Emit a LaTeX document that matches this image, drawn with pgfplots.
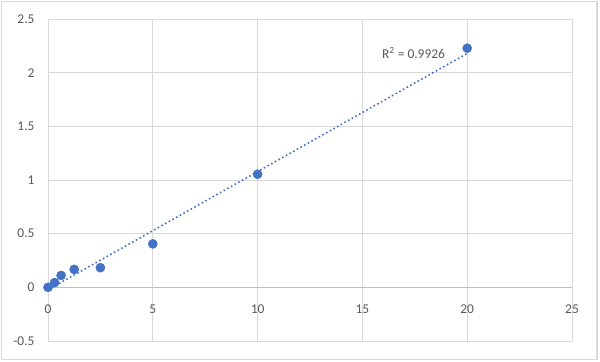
\documentclass[border=0pt]{standalone}
\usepackage{pgfplots}
\pgfplotsset{compat=1.18}
\usepackage{fontspec}
\setmainfont{Carlito}
\definecolor{pt}{RGB}{68,114,196}
\definecolor{gridc}{RGB}{217,217,217}
\definecolor{axc}{RGB}{191,191,191}
\definecolor{txt}{RGB}{89,89,89}
\begin{document}
\begin{tikzpicture}[x=1bp,y=1bp]
\useasboundingbox (-48,-20) rectangle (552,341);
\draw[gridc, line width=1.2bp] (-46.5,-18.5) rectangle (549,339.5);
\begin{axis}[
  at={(0,0)}, anchor=south west,
  scale only axis, width=524bp, height=322bp,
  xmin=0, xmax=25, ymin=-0.5, ymax=2.5,
  xtick={0,5,10,15,20,25}, xticklabels={0,5,10,15,20,25},
  ytick={-0.5,0,0.5,1,1.5,2,2.5}, yticklabels={-0.5,0,0.5,1,1.5,2,2.5},
  grid=major, major grid style={draw=gridc, line width=0.9bp},
  axis line style={draw=none}, major tick length=0pt,
  tick label style={font=\fontsize{13.5}{15}\selectfont, text=txt},
  yticklabel style={xshift=-10bp},
  xticklabel style={yshift=40bp},
  clip=false,
]
\draw[axc, line width=0.9bp] (axis cs:0,0) -- (axis cs:25,0);
\addplot[pt, line width=1.6bp, dash pattern=on 1.6bp off 2.6bp, no marks] coordinates {(0,-0.0226) (20,2.1794)};
\addplot[only marks, mark=*, mark size=4.6bp, pt, mark options={draw=pt, fill=pt}] coordinates {
(0,0) (0.3125,0.044) (0.625,0.111) (1.25,0.167) (2.5,0.183) (5,0.405) (10,1.054) (20,2.228)};
\node[anchor=east, text=txt, font=\fontsize{13.5}{15}\selectfont, inner sep=0pt] at (axis cs:18.95,2.18) {R\textsuperscript{2} = 0.9926};
\end{axis}
\end{tikzpicture}
\end{document}
